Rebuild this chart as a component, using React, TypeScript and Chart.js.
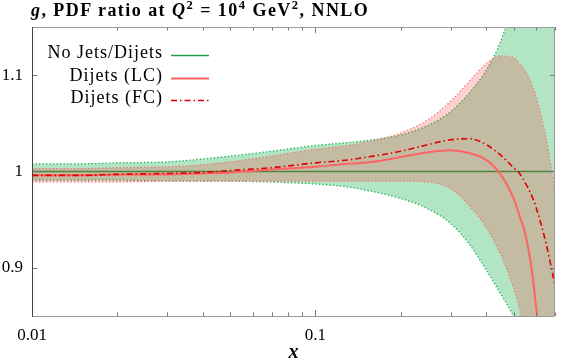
import { useEffect, useRef } from 'react';
import { Chart, registerables } from 'chart.js';

Chart.register(...registerables);

const FONT = "'Liberation Serif', 'Times New Roman', serif";

// x values (log scale)
const xValues = [0.01, 0.015, 0.02, 0.03, 0.04, 0.05, 0.07, 0.1, 0.13, 0.16, 0.2, 0.25, 0.3, 0.35, 0.4, 0.45, 0.5, 0.525, 0.55, 0.575, 0.6, 0.65, 0.7];

// No Jets/Dijets band
const noJetsUpper = [1.008, 1.008, 1.009, 1.010, 1.013, 1.016, 1.021, 1.027, 1.030, 1.033, 1.038, 1.048, 1.062, 1.082, 1.105, 1.135, 1.175, 1.197, 1.22, 1.25, 1.28, 1.35, 1.42];
const noJetsLower = [0.991, 0.991, 0.991, 0.990, 0.990, 0.990, 0.989, 0.987, 0.984, 0.979, 0.972, 0.961, 0.946, 0.924, 0.898, 0.873, 0.849, 0.83, 0.81, 0.785, 0.76, 0.7, 0.64];
const noJetsCentral = [1, 1, 1, 1, 1, 1, 1, 1, 1, 1, 1, 1, 1, 1, 1, 1, 1, 1, 1, 1, 1, 1, 1];

// Dijets (LC) band
const lcUpper = [1.003, 1.003, 1.004, 1.005, 1.007, 1.010, 1.016, 1.023, 1.027, 1.032, 1.040, 1.054, 1.073, 1.094, 1.112, 1.120, 1.118, 1.112, 1.104, 1.093, 1.078, 1.036, 0.98];
const lcLower = [0.989, 0.989, 0.989, 0.990, 0.990, 0.990, 0.990, 0.990, 0.990, 0.990, 0.990, 0.989, 0.982, 0.964, 0.942, 0.914, 0.879, 0.857, 0.83, 0.792, 0.75, 0.66, 0.56];
const lcCentral = [0.996, 0.996, 0.997, 0.997, 0.998, 0.999, 1.002, 1.005, 1.008, 1.010, 1.015, 1.020, 1.022, 1.019, 1.012, 0.997, 0.972, 0.954, 0.935, 0.905, 0.86, 0.75, 0.64];

// Dijets (FC)
const fcCentral = [0.996, 0.996, 0.997, 0.998, 0.999, 1.001, 1.004, 1.009, 1.012, 1.016, 1.021, 1.028, 1.033, 1.034, 1.028, 1.017, 1.004, 0.998, 0.988, 0.977, 0.963, 0.926, 0.882];

// ticks
const xTickValues = [0.01, 0.02, 0.03, 0.04, 0.05, 0.06, 0.07, 0.08, 0.09, 0.1, 0.2, 0.3, 0.4, 0.5, 0.6, 0.7];
const xMajorTicks = [0.01, 0.1];
const yTickValues = [0.9, 1, 1.1];
const yLabels = ['0.9', '1', '1.1'];

const legendLabels = ['No Jets/Dijets', 'Dijets (LC)', 'Dijets (FC)'];

const GREEN = 'rgb(30,160,70)';
const GREEN_DOT = 'rgb(30,175,80)';
const GREEN_FILL = 'rgba(0,170,60,0.3)';
const PINK_DOT = 'rgb(240,120,120)';
const PINK_FILL = 'rgba(255,40,40,0.22)';
const LC = 'rgb(255,100,100)';
const FC = 'rgb(225,0,0)';
const FC_DASH = [6, 3, 1.5, 3];

const pts = (ys: number[]) => xValues.map((x, i) => ({ x, y: ys[i] }));

const framePlugin = {
  id: 'frame',
  afterDatasetsDraw(chart: any) {
    const { ctx, chartArea: a, scales } = chart;
    const xs = scales.x;
    const ys = scales.y;
    ctx.save();
    ctx.lineWidth = 1;
    ctx.strokeStyle = '#777';
    xTickValues.forEach((v) => {
      const px = Math.round(xs.getPixelForValue(v)) + 0.5;
      const len = xMajorTicks.includes(v) ? 6 : 3.5;
      ctx.beginPath();
      ctx.moveTo(px, a.bottom);
      ctx.lineTo(px, a.bottom - len);
      ctx.moveTo(px, a.top);
      ctx.lineTo(px, a.top + len);
      ctx.stroke();
    });
    yTickValues.forEach((v) => {
      const py = Math.round(ys.getPixelForValue(v)) + 0.5;
      ctx.beginPath();
      ctx.moveTo(a.left, py);
      ctx.lineTo(a.left + 5, py);
      ctx.moveTo(a.right, py);
      ctx.lineTo(a.right - 5, py);
      ctx.stroke();
    });
    ctx.strokeStyle = '#999';
    ctx.beginPath();
    ctx.moveTo(a.left, a.top + 0.5);
    ctx.lineTo(a.right - 0.5, a.top + 0.5);
    ctx.lineTo(a.right - 0.5, a.bottom + 0.5);
    ctx.lineTo(a.left, a.bottom + 0.5);
    ctx.stroke();
    ctx.strokeStyle = '#444';
    ctx.beginPath();
    ctx.moveTo(a.left + 0.5, a.top);
    ctx.lineTo(a.left + 0.5, a.bottom + 1);
    ctx.stroke();
    ctx.restore();
  },
  afterDraw(chart: any) {
    const { ctx } = chart;
    ctx.save();
    ctx.font = `18px ${FONT}`;
    (ctx as any).letterSpacing = '1px';
    ctx.fillStyle = '#000';
    ctx.textAlign = 'right';
    ctx.textBaseline = 'alphabetic';
    const baselines = [58, 81, 103];
    const styles = [
      { c: GREEN, w: 1.6, d: [] as number[] },
      { c: LC, w: 2, d: [] as number[] },
      { c: FC, w: 1.6, d: FC_DASH },
    ];
    legendLabels.forEach((t, i) => {
      ctx.fillText(t, 163, baselines[i]);
      const s = styles[i];
      ctx.strokeStyle = s.c;
      ctx.lineWidth = s.w;
      ctx.setLineDash(s.d);
      ctx.beginPath();
      ctx.moveTo(171, baselines[i] - 2.5);
      ctx.lineTo(209, baselines[i] - 2.5);
      ctx.stroke();
    });
    ctx.restore();
  },
};

export default function App() {
  const ref = useRef<HTMLCanvasElement | null>(null);
  useEffect(() => {
    if (!ref.current) return;
    const common = { pointRadius: 0, cubicInterpolationMode: 'monotone' as const };
    const chart = new Chart(ref.current, {
      type: 'line',
      data: {
        datasets: [
          { ...common, label: 'noJetsUpper', data: pts(noJetsUpper), borderColor: GREEN_DOT, borderWidth: 1.3, borderDash: [1.3, 2.2], backgroundColor: GREEN_FILL, fill: '+1', order: 10 },
          { ...common, label: 'noJetsLower', data: pts(noJetsLower), borderColor: GREEN_DOT, borderWidth: 1.3, borderDash: [1.3, 2.2], fill: false, order: 9 },
          { ...common, label: 'No Jets/Dijets', data: pts(noJetsCentral), borderColor: GREEN, borderWidth: 1.6, fill: false, order: 8 },
          { ...common, label: 'lcUpper', data: pts(lcUpper), borderColor: PINK_DOT, borderWidth: 1.3, borderDash: [1.3, 2.2], backgroundColor: PINK_FILL, fill: '+1', order: 7 },
          { ...common, label: 'lcLower', data: pts(lcLower), borderColor: PINK_DOT, borderWidth: 1.3, borderDash: [1.3, 2.2], fill: false, order: 6 },
          { ...common, label: 'Dijets (LC)', data: pts(lcCentral), borderColor: LC, borderWidth: 2, fill: false, order: 2 },
          { ...common, label: 'Dijets (FC)', data: pts(fcCentral), borderColor: FC, borderWidth: 1.6, borderDash: FC_DASH, fill: false, order: 1 },
        ],
      },
      options: {
        animation: false,
        responsive: false,
        maintainAspectRatio: false,
        layout: { padding: { top: 27, right: 2, left: 0, bottom: 0 } },
        plugins: { legend: { display: false }, tooltip: { enabled: false }, title: { display: false } },
        scales: {
          x: {
            type: 'logarithmic',
            min: 0.01,
            max: 0.7,
            grid: { display: false, drawTicks: false },
            border: { display: false },
            afterBuildTicks: (s: any) => { s.ticks = xTickValues.map((v) => ({ value: v })); },
            afterFit: (s: any) => { s.height = 44; },
            ticks: {
              autoSkip: false,
              maxRotation: 0,
              padding: 9,
              color: '#000',
              font: { family: FONT, size: 17 },
              callback: (v: any) => (xMajorTicks.includes(Number(v)) ? String(v) : ''),
            },
            title: { display: true, text: 'x', color: '#000', padding: { top: 0, bottom: 0 }, font: { family: FONT, size: 20, style: 'italic', weight: 'bold', lineHeight: 0.75 } },
          },
          y: {
            type: 'linear',
            min: 0.85,
            max: 1.15,
            grid: { display: false, drawTicks: false },
            border: { display: false },
            afterBuildTicks: (s: any) => { s.ticks = yTickValues.map((v) => ({ value: v })); },
            afterFit: (s: any) => { s.width = 32; },
            ticks: {
              padding: 9,
              color: '#000',
              font: { family: FONT, size: 17 },
              callback: (v: any) => yLabels[yTickValues.indexOf(Number(v))] ?? '',
            },
          },
        },
      },
      plugins: [framePlugin],
    });
    return () => chart.destroy();
  }, []);

  return (
    <div style={{ position: 'fixed', left: 0, top: 0, width: 564, height: 360, background: '#fff' }}>
      <canvas ref={ref} width={564} height={360} style={{ display: 'block', width: 564, height: 360 }} />
      <div
        style={{
          position: 'absolute',
          left: 31,
          top: 0,
          font: `bold 18px ${FONT}`,
          lineHeight: '20px',
          whiteSpace: 'nowrap',
          letterSpacing: '1.45px',
          color: '#000',
        }}
      >
        <i>g</i>, PDF ratio at <i>Q</i>
        <sup style={{ fontSize: '0.7em', lineHeight: 0 }}>2</sup> = 10
        <sup style={{ fontSize: '0.7em', lineHeight: 0 }}>4</sup> GeV
        <sup style={{ fontSize: '0.7em', lineHeight: 0 }}>2</sup>, NNLO
      </div>
    </div>
  );
}
